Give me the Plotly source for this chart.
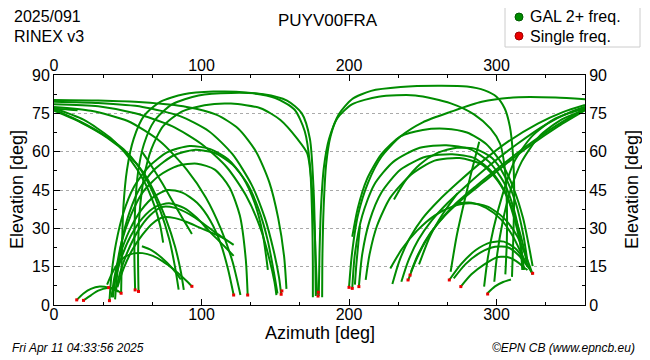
import plotly.graph_objects as go

# ---------------- data (azimuth / elevation in degrees) ----------------
# left part of the sky (az 0-180)
g1_az = [0, 30, 60, 90, 110, 125, 137, 146, 152, 156, 157.6]
g1_el = [80.2, 80, 79.3, 77.5, 74.5, 69, 60, 48, 34, 19, 6.3]
g2_az = [0, 30, 60, 85, 105, 121, 134, 143, 149, 152.5, 154]
g2_el = [79.5, 79, 77.5, 74, 68, 59, 47, 34, 21, 11, 4.2]
g3_az = [0, 30, 55, 80, 100, 117, 130, 140, 146, 149.5, 150.8]
g3_el = [78.6, 77.8, 75, 70, 63, 54, 43, 30, 18, 9, 3.9]
g4_az = [0, 25, 50, 72, 90, 103, 113, 121, 126.4]
g4_el = [77.5, 76, 72, 64, 53, 42, 30, 17, 3.9]
gs1_az = [0, 17, 34, 47, 57, 65, 72, 78, 82, 84.5]
gs1_el = [76.5, 72, 66.5, 61, 54.5, 46.5, 37, 26, 15, 6]
gs2_az = [0, 18, 36, 50, 61, 69, 76, 82, 86, 88]
gs2_el = [76, 71.5, 65.5, 59, 51.5, 43, 33.5, 23, 13, 5.9]
gs3_az = [0, 20, 38, 51, 61, 68, 72, 74]
gs3_el = [77, 72.5, 65.5, 57.5, 48.5, 39, 31, 24.4]
gsh_az = [0, 8, 16]
gsh_el = [76.8, 76.6, 76.2]
l10_az = [59.6, 66, 73, 80, 87, 93.5]
l10_el = [60, 54.5, 48, 41, 34, 27.8]
l9_az = [59.6, 66, 73, 80, 86]
l9_el = [23, 21.5, 18.5, 14.5, 10]
p1_az = [37.6, 39, 42, 47, 54, 64, 77, 92, 106, 118, 128, 136, 141.5, 145]
p1_el = [1.7, 12, 24, 36, 46, 54, 59.8, 62.2, 61, 57, 50, 40, 28, 13.7]
p2_az = [41.4, 43, 46, 51, 58, 68, 81, 95, 109, 121, 131, 139, 145, 149, 151.5]
p2_el = [2.2, 13, 25, 36, 45.5, 53, 58.5, 60.7, 59.5, 55, 47.5, 37, 25, 13, 4.5]
p3_az = [40, 42, 46, 52, 60, 71, 84, 97, 109, 119, 126, 130, 131.3]
p3_el = [3, 13, 25, 35, 44, 50.5, 54.5, 55.3, 53, 46, 35, 18, 3.9]
p4_az = [39, 41, 45, 51, 59, 68, 77, 87, 97, 106, 113, 118, 121.8]
p4_el = [3, 11, 20, 29, 37, 42.5, 45, 44, 40, 33, 24, 14, 3.9]
p5_az = [39.5, 42, 46, 52, 60, 69, 78, 88, 97, 105, 112, 118, 121.8]
p5_el = [4, 11, 19, 27, 34, 38.5, 39.8, 38, 34, 29, 25, 21.5, 19.2]
p6_az = [42, 45, 50, 57, 65, 73, 82, 92, 101, 109, 116, 121.8]
p6_el = [6, 13, 21, 29, 35, 38.3, 38, 35.5, 32, 28.5, 25.8, 23.5]
p7_az = [43, 47, 53, 60, 67, 74, 82, 90, 98, 106, 112, 116]
p7_el = [7, 14, 21.5, 27.5, 32, 34.3, 34, 32.5, 30.5, 28.5, 27, 25.8]
p9_az = [36, 39, 43, 48, 54, 60, 67, 74, 81, 87, 91, 93.5]
p9_el = [8, 12, 16, 18.8, 20.2, 20.3, 19.2, 17, 14, 11, 8.8, 7.3]
s1_az = [15.4, 20, 25, 31, 37, 43.7]
s1_el = [2, 4.5, 6.3, 7.2, 6.8, 5.2]
s2_az = [20, 25, 30, 36, 41, 45.5]
s2_el = [1.8, 3.8, 5.6, 6.7, 6.3, 4.6]
z1_az = [45.5, 46, 47, 49.5, 54, 61, 72, 88, 108, 130, 150, 163, 170, 173.5, 175, 175.5, 175.5]
z1_el = [4.6, 20, 38, 53, 65, 74, 79.5, 82.5, 83.5, 83.2, 81, 76.5, 68, 55, 35, 15, 3]
z2_az = [55, 54.5, 55, 57, 61, 68, 80, 98, 120, 142, 158, 168, 173.5, 176, 177, 177.5]
z2_el = [5.9, 20, 38, 52, 63, 72, 78.5, 82, 83, 82.5, 80, 75, 65, 45, 25, 3.5]
z3_az = [57.3, 57, 58, 61, 66, 74, 86, 102, 120, 140, 153.5, 165, 171.7, 175, 177, 178.4]
z3_el = [5.3, 20, 36, 50, 61, 70, 75.5, 78.2, 78.8, 77, 72.4, 65, 59.3, 45, 25, 4]

# right part of the sky (az 180-360)
rz1_az = [181.8, 182, 182.8, 184.5, 187.5, 193, 202, 215, 235, 260, 280, 292, 300, 305.5, 309, 311, 312, 311.5, 310.5]
rz1_el = [3, 20, 38, 55, 66, 74.5, 80.5, 83.8, 85.3, 85.8, 85.5, 84, 81.5, 77, 70, 60, 45, 28, 11]
rz2_az = [179.5, 180, 181, 183, 186.5, 192, 202, 220, 245, 269, 285, 296, 302.5, 305.5, 307, 307, 306]
rz2_el = [3.5, 20, 38, 54, 65, 73, 78.5, 81.5, 82, 78.9, 74.5, 69, 63, 54, 40, 25, 12]
rl1_az = [200, 202, 206, 213, 222, 235, 250, 269, 290, 315, 340, 360]
rl1_el = [6.9, 20, 35, 48, 58, 66, 71.5, 75.6, 79.5, 81.3, 81.2, 80.5]
ra1_az = [202.2, 206, 212, 222, 235, 250, 265, 280, 293, 304, 312, 318, 322, 324.5]
ra1_el = [26.7, 38, 49, 59, 66, 68.5, 69, 67.5, 63, 55, 45, 34, 23, 15.2]
ra2_az = [202.2, 204, 209, 217, 230, 248, 266, 282, 295, 305, 312, 316, 318.6]
ra2_el = [6.5, 20, 35, 47, 56, 61.5, 62.5, 61, 56, 48, 37, 26, 13.7]
ra3_az = [206.7, 209, 214, 222, 235, 252, 270, 285, 297, 306, 312, 316, 317.5]
ra3_el = [7.2, 20, 33, 44, 53, 58, 59, 57.5, 52, 44, 34, 24, 13.7]
ra4_az = [211.3, 214, 219, 228, 242, 258, 275, 290, 301, 309, 315, 319, 321]
ra4_el = [9.8, 20, 31, 42, 51, 56.5, 57.5, 55, 48.5, 40, 30, 21, 15]
rs1_az = [204, 205, 206.3, 207.4]
rs1_el = [8, 16, 24, 30.9]
rm2_az = [230.5, 238, 248, 260, 273, 286, 297, 306, 313, 318, 321]
rm2_el = [41.3, 48.5, 55, 59.5, 61.5, 61, 57.5, 50, 40, 28, 17]
d1_az = [229.4, 234, 241, 250, 261, 274, 290, 308, 328, 345, 360]
d1_el = [8.2, 17, 26, 34, 41, 48, 56, 64, 71, 75.5, 78.3]
d2_az = [235.5, 240, 247, 256, 267, 280, 296, 314, 333, 350, 360]
d2_el = [9.1, 17, 25.5, 33, 40, 47, 55, 63, 70.5, 75.5, 77.6]
d3_az = [240, 245, 252, 261, 272, 286, 302, 320, 340, 360]
d3_el = [9.5, 17, 25, 32.5, 39.5, 46.5, 54, 62, 70, 76.8]
d4_az = [242, 247, 255, 265, 277, 291, 306, 323, 342, 360]
d4_el = [13, 20, 28, 35, 41.5, 48, 55, 62.5, 70, 76.2]
ms1_az = [247.5, 255, 264, 273.5]
ms1_el = [15.9, 27, 36, 43.7]
ma1_az = [228, 236, 246, 258, 270, 282, 294, 305, 314, 320, 324.5]
ma1_el = [14.3, 22, 29, 35, 38.5, 39.8, 38.5, 34, 27, 19, 12]
ma2_az = [273.5, 283, 293, 303, 311, 317, 321]
ma2_el = [39.8, 40, 38, 33.5, 27, 20, 15]
la1_az = [268, 276, 286, 296, 305, 313, 319, 324.5]
la1_el = [9.8, 16, 21.5, 24.5, 24.8, 22, 17.5, 12]
la2_az = [271, 279, 289, 299, 308, 315, 320, 323]
la2_el = [10.4, 16, 20.5, 22.8, 22.5, 19.5, 16, 13.7]
la3_az = [275.8, 283, 292, 301, 309, 315, 319, 321]
la3_el = [7.2, 12, 16, 18.8, 18.5, 16.5, 14.5, 13.7]
la4_az = [268.9, 273, 278, 283, 288.3]
la4_el = [13, 27, 40, 52, 63.9]
e1_az = [291.6, 294, 298, 304, 312, 324, 340, 360]
e1_el = [7.2, 18, 30, 43, 56, 66, 73, 77]
e2_az = [298.5, 300.5, 304, 309, 317, 329, 344, 360]
e2_el = [9.1, 20, 32, 44, 56, 66, 72.5, 76.3]
es_az = [293.9, 299, 304.5, 309.8]
es_el = [4.6, 7.3, 9, 10]

# single-frequency observations (red)
red_az = [15.4, 20, 37.6, 37, 45.5, 55, 57.3, 93.5, 121.8, 131.3, 154, 154.5, 179, 179.2,
          200, 202.2, 206.7, 240, 241.4, 268, 275.8, 294, 324.5]
red_el = [2, 1.8, 1.7, 6.8, 4.6, 5.9, 5.3, 7.3, 3.9, 3.9, 4.2, 5.5, 3.5, 5,
          6.9, 6.5, 7.2, 9.8, 11.7, 9.8, 7.2, 4.3, 12.4]

x_ticks = [0, 100, 200, 300]
x_minor = [33.33, 66.67, 133.33, 166.67, 233.33, 266.67, 333.33]
y_ticks = [0, 15, 30, 45, 60, 75, 90]
y_minor = [7.5, 22.5, 37.5, 52.5, 67.5, 82.5]

TRACKS = [
    (g1_az, g1_el), (g2_az, g2_el), (g3_az, g3_el), (g4_az, g4_el),
    (gs1_az, gs1_el), (gs2_az, gs2_el), (gs3_az, gs3_el), (gsh_az, gsh_el),
    (l10_az, l10_el), (l9_az, l9_el),
    (p1_az, p1_el), (p2_az, p2_el), (p3_az, p3_el), (p4_az, p4_el),
    (p5_az, p5_el), (p6_az, p6_el), (p7_az, p7_el), (p9_az, p9_el),
    (s1_az, s1_el), (s2_az, s2_el),
    (z1_az, z1_el), (z2_az, z2_el), (z3_az, z3_el),
    (rz1_az, rz1_el), (rz2_az, rz2_el), (rl1_az, rl1_el),
    (ra1_az, ra1_el), (ra2_az, ra2_el), (ra3_az, ra3_el), (ra4_az, ra4_el),
    (rs1_az, rs1_el), (rm2_az, rm2_el),
    (d1_az, d1_el), (d2_az, d2_el), (d3_az, d3_el), (d4_az, d4_el),
    (ms1_az, ms1_el), (ma1_az, ma1_el), (ma2_az, ma2_el),
    (la1_az, la1_el), (la2_az, la2_el), (la3_az, la3_el), (la4_az, la4_el),
    (e1_az, e1_el), (e2_az, e2_el), (es_az, es_el),
]

GREEN = 'rgb(0,140,0)'
RED = 'rgb(235,0,0)'
FONT = 'Liberation Sans, Arial, sans-serif'

# the page body adds an 8 px offset; the figure is sized to fit the window
OFF = 8
W, H = 650 - OFF, 360 - OFF
L, R, T, B = 54, 585, 75, 305          # plot area in window pixels


def px(x):
    return (x - L) / (R - L)


def py(y):
    return (B - y) / (B - T)


fig = go.Figure()
for az, el in TRACKS:
    fig.add_trace(go.Scatter(x=az, y=el, mode='lines',
                             line=dict(color=GREEN, width=2, shape='spline', smoothing=0.7),
                             hoverinfo='skip', showlegend=False))
fig.add_trace(go.Scatter(x=red_az, y=red_el, mode='markers',
                         marker=dict(color=RED, size=3, symbol='square'),
                         hoverinfo='skip', showlegend=False))
# helper trace for top / right axes
fig.add_trace(go.Scatter(x=[0, 360], y=[0, 90], xaxis='x2', yaxis='y2', mode='markers',
                         marker=dict(opacity=0), hoverinfo='skip', showlegend=False))

axis_common = dict(showline=True, linecolor='black', linewidth=1, ticks='inside',
                   ticklen=6, tickcolor='black', tickwidth=1,
                   tickfont=dict(family=FONT, size=16, color='black'), zeroline=False)

fig.update_layout(
    width=W, height=H,
    margin=dict(l=L - OFF, r=W - (R - OFF), t=T - OFF, b=H - (B - OFF), autoexpand=False),
    paper_bgcolor='white', plot_bgcolor='white',
    font=dict(family=FONT, color='black'),
    xaxis=dict(range=[0, 360], tickvals=x_ticks, showgrid=False, mirror=True,
               ticklabelstandoff=-5,
               minor=dict(tickvals=x_minor, ticks='inside', ticklen=3, tickcolor='black'),
               **axis_common),
    yaxis=dict(range=[0, 90], tickvals=y_ticks, showgrid=True, gridcolor='#aaaaaa',
               griddash='dot', gridwidth=1, mirror=True,
               minor=dict(tickvals=y_minor, ticks='inside', ticklen=3, tickcolor='black',
                          showgrid=False),
               **axis_common),
    xaxis2=dict(range=[0, 360], tickvals=x_ticks, overlaying='x', side='top', anchor='y2',
                showgrid=False, ticklabelstandoff=-3,
                minor=dict(tickvals=x_minor, ticks='inside', ticklen=3, tickcolor='black'),
                **axis_common),
    yaxis2=dict(range=[0, 90], tickvals=y_ticks, overlaying='y', side='right', anchor='x2',
                showgrid=False,
                minor=dict(tickvals=y_minor, ticks='inside', ticklen=3, tickcolor='black'),
                **axis_common),
    showlegend=False,
)

ann = [
    dict(text='2025/091', x=px(12), y=py(17), xanchor='left', yanchor='middle', font=dict(size=16)),
    dict(text='RINEX v3', x=px(12), y=py(36), xanchor='left', yanchor='middle', font=dict(size=16)),
    dict(text='PUYV00FRA', x=px(328), y=py(20), xanchor='center', yanchor='middle', font=dict(size=17)),
    dict(text='Azimuth [deg]', x=px(320), y=py(333), xanchor='center', yanchor='middle',
         font=dict(size=18)),
    dict(text='Elevation [deg]', x=px(17), y=py(190), xanchor='center', yanchor='middle',
         textangle=-90, font=dict(size=18)),
    dict(text='Elevation [deg]', x=px(632), y=py(190), xanchor='center', yanchor='middle',
         textangle=-90, font=dict(size=18)),
    dict(text='<i>Fri Apr 11 04:33:56 2025</i>', x=px(10), y=py(348), xanchor='left',
         yanchor='middle', font=dict(size=12)),
    dict(text='<i>©EPN CB (www.epncb.eu)</i>', x=px(637), y=py(348), xanchor='right',
         yanchor='middle', font=dict(size=12)),
    dict(text='GAL 2+ freq.', x=px(528), y=py(17), xanchor='left', yanchor='middle',
         font=dict(size=16)),
    dict(text='Single freq.', x=px(528), y=py(36), xanchor='left', yanchor='middle',
         font=dict(size=16)),
]
for a in ann:
    a.update(xref='paper', yref='paper', showarrow=False)
fig.update_layout(annotations=ann)

shapes = [
    dict(type='rect', xref='paper', yref='paper', x0=px(505), x1=px(640), y0=py(47), y1=py(4),
         line=dict(color='#cccccc', width=1), fillcolor='white', layer='below'),
    dict(type='circle', xref='paper', yref='paper', x0=px(515), x1=px(523), y0=py(21), y1=py(13),
         line=dict(color='rgb(0,90,0)', width=1), fillcolor='rgb(0,140,0)'),
    dict(type='circle', xref='paper', yref='paper', x0=px(515), x1=px(523), y0=py(40), y1=py(32),
         line=dict(color='rgb(160,0,0)', width=1), fillcolor='rgb(235,0,0)'),
]
fig.update_layout(shapes=shapes)

fig.write_html('out.html')
